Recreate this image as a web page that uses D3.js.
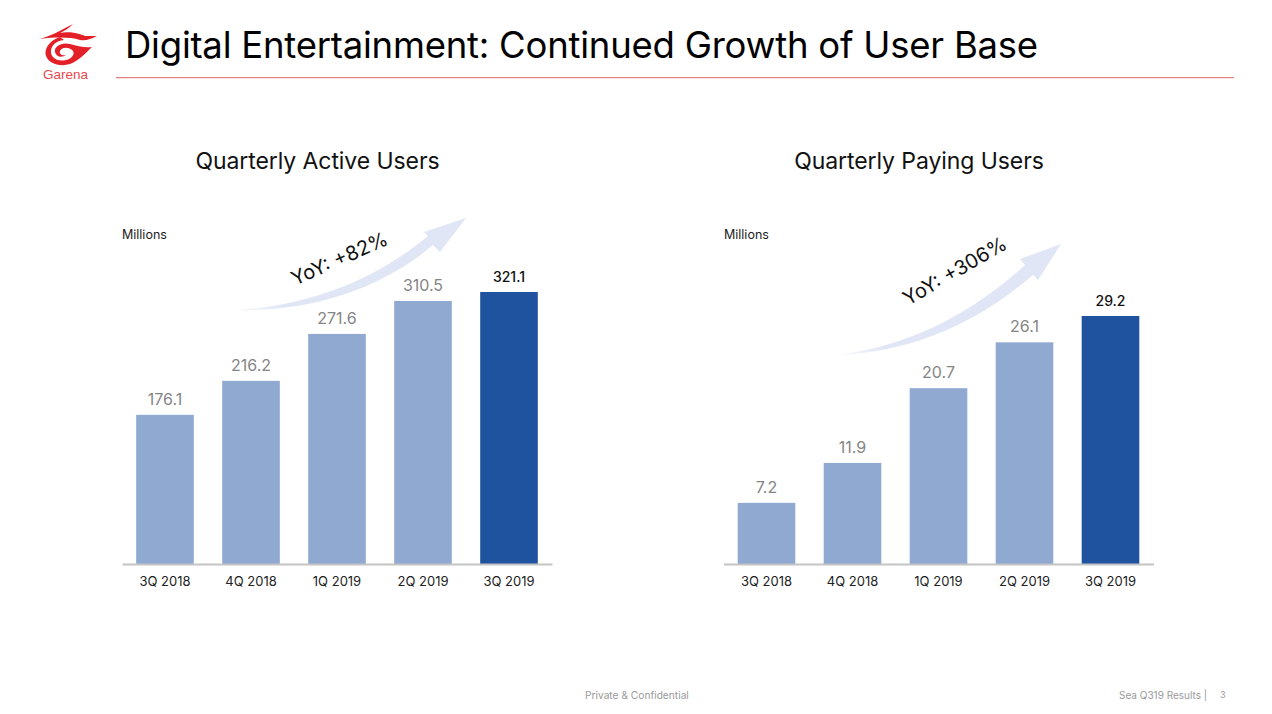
<!DOCTYPE html>
<html>
<head>
<meta charset="utf-8">
<script src="https://cdn.jsdelivr.net/npm/d3@7"></script>
<style>
  html, body { margin: 0; padding: 0; background: #fff; }
  svg { display: block; }
  text { font-family: "Inter", "Lato", sans-serif; }
</style>
</head>
<body>
<svg id="slide" width="1272" height="714"></svg>
<script>
// chart data
var quarters = ["3Q 2018", "4Q 2018", "1Q 2019", "2Q 2019", "3Q 2019"];
var activeUsers = [176.1, 216.2, 271.6, 310.5, 321.1];
var payingUsers = [7.2, 11.9, 20.7, 26.1, 29.2];

var svg = d3.select("#slide");
var baseY = 564;

// fade for the arrow tails
var defs = svg.append("defs");
var grad = defs.append("linearGradient").attr("id", "arrowFade");
grad.append("stop").attr("offset", "0%").attr("stop-color", "#e0e6f5").attr("stop-opacity", 0.25);
grad.append("stop").attr("offset", "22%").attr("stop-color", "#e0e6f5");
grad.append("stop").attr("offset", "100%").attr("stop-color", "#e0e6f5");

// header
svg.append("text").attr("x", 125).attr("y", 58)
  .attr("font-size", 36.5).attr("letter-spacing", -0.23).attr("fill", "#000")
  .text("Digital Entertainment: Continued Growth of User Base");
svg.append("rect").attr("x", 116).attr("y", 77).attr("width", 1118).attr("height", 1.2)
  .attr("fill", "#e57f7f");

// logo
var logo = svg.append("g").attr("fill", "#e32028");
logo.append("path").attr("d", "M40 39 C50 36 58 32 73 24 C68 29 64 31 60 33 C70 31 80 34 85 36 L97 36 C91 39 86 41 80 40 C70 37 56 37 40 39 Z");
logo.append("path").attr("d", "M60 37 C48 41 44 50 46 56 C49 64 60 67 70 64 C78 61 86 53 92 47 C84 48 78 46 70 44 C62 42 54 46 55 52 C56 57 62 58 66 55 C62 56 59 54 60 51 C62 47 68 47 72 50 C76 53 72 59 66 60 C58 62 51 58 51 52 C51 45 56 41 64 40 Z");
logo.append("text").attr("x", 65.5).attr("y", 78.5).attr("text-anchor", "middle")
  .style("font-family", '"Liberation Sans"').attr("font-size", 13.5).attr("fill", "#e8484e").text("Garena");

function drawPanel(opt) {
  var x = d3.scaleBand().domain(quarters)
    .range([opt.left, opt.left + 430])
    .paddingInner(0.33).paddingOuter(0.165);
  var y = d3.scaleLinear().domain([0, opt.max]).range([baseY, baseY - opt.height]);

  var g = svg.append("g");

  g.append("text").attr("x", opt.titleX).attr("y", 169).attr("text-anchor", "middle")
    .attr("font-size", 23).attr("letter-spacing", -0.08).attr("fill", "#111").text(opt.title);
  g.append("text").attr("x", opt.labelX).attr("y", 239)
    .attr("font-size", 12.5).attr("fill", "#222").text("Millions");

  // growth arrow
  g.append("path").attr("d", opt.arrow).attr("fill", "url(#arrowFade)");
  g.append("text").attr("transform", opt.yoyAt)
    .attr("font-size", opt.yoySize).attr("fill", "#111").text(opt.yoy);

  g.selectAll("rect").data(opt.values).join("rect")
    .attr("x", function(d, i) { return x(quarters[i]); })
    .attr("y", function(d) { return y(d); })
    .attr("width", x.bandwidth())
    .attr("height", function(d) { return baseY - y(d); })
    .attr("fill", function(d, i) { return i == 4 ? "#20539f" : "#8fa9d1"; });

  g.selectAll("text.val").data(opt.values).join("text")
    .attr("class", "val")
    .attr("x", function(d, i) { return x(quarters[i]) + x.bandwidth() / 2; })
    .attr("y", function(d) { return y(d) - 10; })
    .attr("text-anchor", "middle")
    .attr("font-size", function(d, i) { return i == 4 ? 14 : 16; })
    .attr("font-weight", function(d, i) { return i == 4 ? 500 : 400; })
    .attr("fill", function(d, i) { return i == 4 ? "#111" : "#858585"; })
    .text(function(d) { return d3.format(".1f")(d); });

  var axis = d3.axisBottom(x).tickSize(0).tickPadding(13);
  var ag = g.append("g").attr("transform", "translate(0," + baseY + ")").call(axis);
  ag.select(".domain").attr("stroke", "#c4c4c4").attr("stroke-width", 2);
  ag.selectAll("text")
    .attr("font-size", 13).attr("fill", "#222")
    .style("font-family", '"Inter", sans-serif');
}

drawPanel({
  left: 122, labelX: 122, titleX: 317.5, title: "Quarterly Active Users",
  values: activeUsers, max: 321.1, height: 272,
  yoy: "YoY: +82%", yoySize: 20, yoyAt: "translate(295,286) rotate(-24)",
  arrow: "M234 310 C310 306 375 280 428 236 L424 232 L466 218 L440 252 L433 245 C380 290 310 312 234 310 Z"
});
drawPanel({
  left: 723.5, labelX: 724, titleX: 919, title: "Quarterly Paying Users",
  values: payingUsers, max: 29.2, height: 248,
  yoy: "YoY: +306%", yoySize: 20, yoyAt: "translate(908,306) rotate(-30)",
  arrow: "M838 355 C910 345 970 315 1025 265 L1020 259 L1061 244 L1038 280 L1033 275 C975 325 910 352 838 355 Z"
});

// footer
svg.append("text").attr("x", 585).attr("y", 699).attr("font-size", 10.2).attr("fill", "#9a9a9a").text("Private & Confidential");
svg.append("text").attr("x", 1119).attr("y", 699).attr("font-size", 10).attr("fill", "#9a9a9a").text("Sea Q319 Results |");
svg.append("text").attr("x", 1220).attr("y", 698).attr("font-size", 9).attr("fill", "#9a9a9a").text("3");
</script>
</body>
</html>
